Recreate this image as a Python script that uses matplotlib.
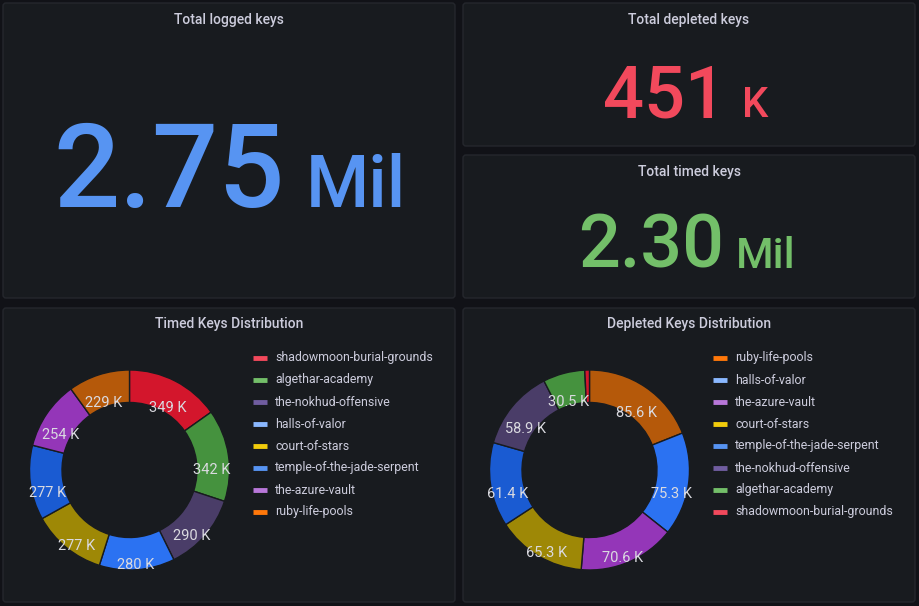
import numpy as np
import matplotlib
matplotlib.use("Agg")
import matplotlib.pyplot as plt
from matplotlib.patches import FancyBboxPatch

W, H = 919, 606
BG = "#111217"
PANEL = "#181b1f"
BORDER = "#25272d"
TITLE_C = "#ccccdc"
FONT = "Roboto"

# stat panels
total_logged = ("2.75", "Mil")
total_depleted = ("451", "K")
total_timed = ("2.30", "Mil")

# timed keys distribution (clockwise from top)
timed_names = ["shadowmoon-burial-grounds", "algethar-academy", "the-nokhud-offensive",
               "halls-of-valor", "court-of-stars", "temple-of-the-jade-serpent",
               "the-azure-vault", "ruby-life-pools"]
timed_values = [349, 342, 290, 280, 277, 277, 254, 229]  # thousands

# depleted keys distribution (clockwise from top)
depleted_names = ["ruby-life-pools", "halls-of-valor", "the-azure-vault", "court-of-stars",
                  "temple-of-the-jade-serpent", "the-nokhud-offensive", "algethar-academy",
                  "shadowmoon-burial-grounds"]
depleted_values = [85.6, 75.3, 70.6, 65.3, 61.4, 58.9, 30.5, 3.4]  # thousands

slice_colors = {
    "shadowmoon-burial-grounds": "#d3162c",
    "algethar-academy": "#45923e",
    "the-nokhud-offensive": "#4a3d68",
    "halls-of-valor": "#2b72f2",
    "court-of-stars": "#9e8806",
    "temple-of-the-jade-serpent": "#1a5bd2",
    "the-azure-vault": "#9436b8",
    "ruby-life-pools": "#b5590a",
}
legend_colors = {
    "shadowmoon-burial-grounds": "#f2495c",
    "algethar-academy": "#73bf69",
    "the-nokhud-offensive": "#705da0",
    "halls-of-valor": "#8ab8ff",
    "court-of-stars": "#f2cc0c",
    "temple-of-the-jade-serpent": "#5794f2",
    "the-azure-vault": "#b877d9",
    "ruby-life-pools": "#ff780a",
}

fig = plt.figure(figsize=(W / 100, H / 100), dpi=100, facecolor=BG)
bg = fig.add_axes([0, 0, 1, 1])
bg.set_xlim(0, W)
bg.set_ylim(H, 0)
bg.axis("off")


def panel(x0, y0, x1, y1, title, ty):
    bg.add_patch(FancyBboxPatch((x0, y0), x1 - x0, y1 - y0,
                                boxstyle="round,pad=0,rounding_size=3",
                                fc=PANEL, ec=BORDER, lw=1))
    bg.text((x0 + x1) / 2, ty, title, color=TITLE_C, fontsize=10, family=FONT,
            weight="medium", ha="center", va="center")


panel(3, 3, 455, 298, "Total logged keys", 20)
panel(463, 3, 915, 146, "Total depleted keys", 20)
panel(463, 155, 915, 298, "Total timed keys", 172)
panel(3, 308, 455, 602, "Timed Keys Distribution", 324)
panel(463, 308, 915, 602, "Depleted Keys Distribution", 324)


def stat(value, unit, xr, xl, base, big, small, color):
    bg.text(xr, base, value, color=color, fontsize=big, family=FONT, weight="medium",
            ha="right", va="baseline")
    bg.text(xl, base, unit, color=color, fontsize=small, family=FONT, weight="medium",
            ha="left", va="baseline")


stat(*total_logged, 285, 306, 207, 84, 52, "#5794f2")
stat(*total_depleted, 726, 742, 117, 52, 30, "#f2495c")
stat(*total_timed, 724, 736, 268, 53, 31, "#73bf69")


def donut(names, values, cx, cy, lx):
    r = 100
    ax = fig.add_axes([(cx - r) / W, (H - cy - r) / H, 2 * r / W, 2 * r / H])
    ax.pie(values, colors=[slice_colors[n] for n in names], startangle=90,
           counterclock=False, radius=1,
           wedgeprops=dict(width=0.325, edgecolor=PANEL, linewidth=1))
    ax.set_xlim(-1, 1)
    ax.set_ylim(-1, 1)
    ax.axis("off")
    vals = np.array(values, dtype=float)
    mids = (np.cumsum(vals) - vals / 2) / vals.sum() * 2 * np.pi
    for v, a in zip(values, mids):
        if v < 10:
            continue
        txt = f"{v:.0f} K" if v >= 100 else f"{v:.1f} K"
        ax.text(0.83 * np.sin(a), 0.83 * np.cos(a) - 0.12, txt, color="#dadae0",
                fontsize=10.5, family=FONT, ha="center", va="center", clip_on=False)
    for i, n in enumerate(names):
        y = 358 + 22 * i
        bg.plot([lx, lx + 14], [y, y], color=legend_colors[n], lw=3.5,
                solid_capstyle="butt")
        bg.text(lx + 22, y, n, color=TITLE_C, fontsize=8.9, family=FONT,
                ha="left", va="center")


donut(timed_names, timed_values, 129.5, 470, 253)
donut(depleted_names, depleted_values, 589.5, 470, 713)

fig.savefig("out.png", dpi=100, facecolor=BG)
